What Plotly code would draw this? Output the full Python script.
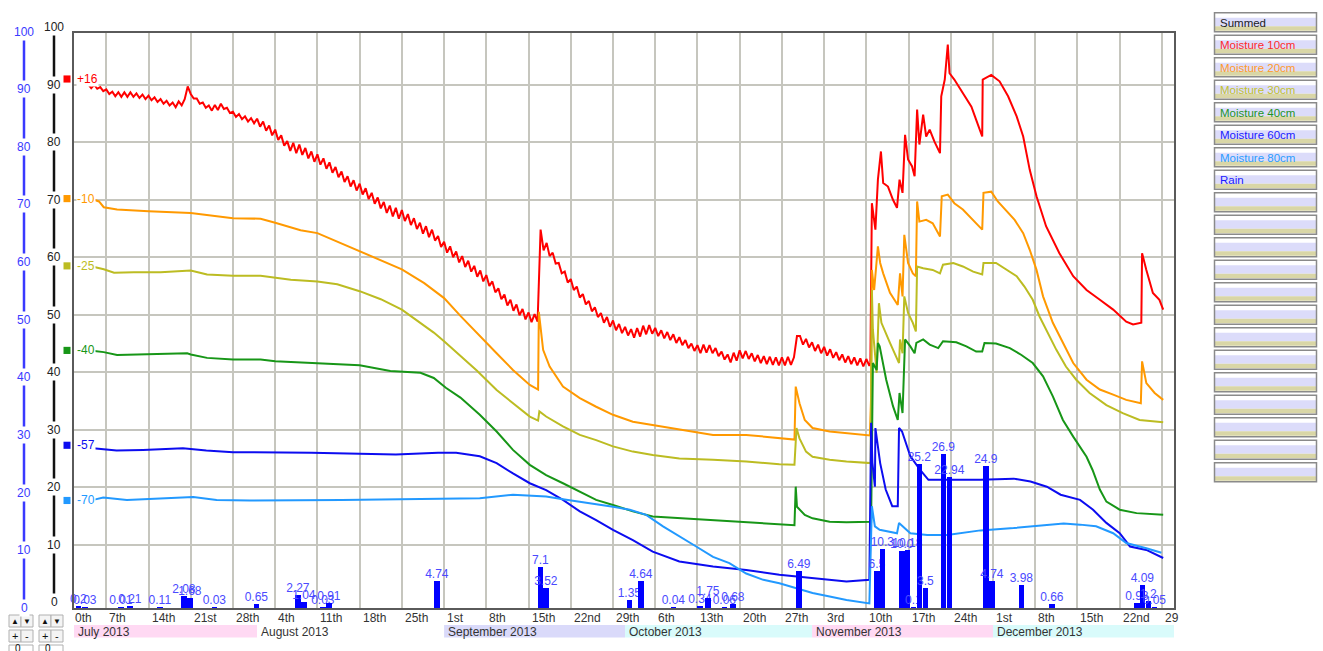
import plotly.graph_objects as go
import pandas as pd

# ---------------- data ----------------
# Moisture 10cm: half-daily readings from 4 Jul to 10 Nov (diurnal swing), then irregular readings
red_regular_start = "2013-07-04 00:00"
red_regular_y = [
    90.1, 89.4, 90.0, 89.3, 89.6, 88.9, 89.2, 88.4, 88.8, 88.0, 88.7, 87.9, 88.7, 87.9,            # Jul 4-10
    88.7, 87.9, 88.5, 87.7, 88.3, 87.5, 88.1, 87.3, 87.8, 87.0, 87.5, 86.7, 87.2, 86.4,            # Jul 11-17
    86.9, 86.1, 87.1, 86.4, 87.5, 89.7, 88.4, 87.6, 87.6, 86.7, 86.9, 86.0, 86.4, 85.5,            # Jul 18-24
    86.5, 85.6, 86.7, 85.8, 86.0, 85.1, 85.3, 84.4, 84.9, 84.0, 84.5, 83.6, 84.2, 83.3,            # Jul 25-31
    84.1, 82.7, 83.6, 82.0, 82.9, 81.2, 82.2, 80.4, 81.2, 79.4, 80.2, 78.5, 79.9, 78.1,            # Aug 1-7
    79.6, 77.8, 79.0, 77.2, 78.4, 76.6, 77.9, 76.1, 77.2, 75.4, 76.5, 74.7, 75.7, 73.9,            # Aug 8-14
    74.9, 73.1, 74.1, 72.3, 73.4, 71.6, 72.8, 70.9, 72.0, 70.1, 71.2, 69.3, 70.4, 68.5,            # Aug 15-21
    69.6, 67.7, 69.0, 67.1, 68.6, 66.7, 68.2, 66.3, 67.5, 65.6, 66.8, 64.9, 66.0, 64.1,            # Aug 22-28
    65.4, 63.5, 64.8, 62.9, 63.7, 61.8,                                                            # Aug 29-31
    62.7, 60.8, 61.9, 60.0, 61.0, 59.1, 60.2, 58.3, 59.4, 57.5, 58.5, 56.6, 57.7, 55.8,            # Sep 1-7
    56.9, 55.0, 55.8, 53.9, 54.6, 52.7, 53.5, 51.6, 52.6, 50.7, 51.8, 49.9, 51.0, 49.2,            # Sep 8-14
    50.4, 48.7, 50.1, 48.8, 64.8, 61.2, 62.5, 60.2, 60.8, 58.9, 59.0, 57.2, 57.5, 55.6,            # Sep 15-21
    56.2, 54.3, 54.9, 53.0, 53.6, 51.8, 52.4, 50.6, 51.3, 49.6, 50.3, 48.6, 49.6, 47.9,            # Sep 22-28
    49.0, 47.3, 48.4, 46.8,                                                                        # Sep 29-30
    47.9, 46.4, 47.5, 46.0, 47.7, 46.2, 48.1, 46.6, 48.2, 46.7, 47.7, 46.3, 47.3, 45.9,            # Oct 1-7
    47.0, 45.6, 46.6, 45.1, 46.1, 44.7, 45.6, 44.2, 45.0, 43.7, 44.7, 43.3, 44.8, 43.4,            # Oct 8-14
    44.7, 43.3, 44.2, 42.8, 43.6, 42.2, 43.1, 41.7, 43.4, 42.0, 43.8, 42.4, 43.7, 42.3,            # Oct 15-21
    43.3, 41.9, 43.0, 41.6, 42.8, 41.4, 42.7, 41.3, 42.6, 41.2, 42.6, 41.2, 42.7, 41.3,            # Oct 22-28
    42.6, 46.3, 46.3, 44.8, 45.8, 44.3,                                                            # Oct 29-31
    45.2, 43.7, 44.8, 43.3, 44.4, 42.9, 44.0, 42.5, 43.5, 42.1, 43.1, 41.7, 42.8, 41.4,            # Nov 1-7
    42.6, 41.2, 42.4, 41.0, 42.3, 41.1]                                                            # Nov 8-10
red_tail_x = ["2013-11-10 16:00","2013-11-10 22:00","2013-11-11 12:00",
         "2013-11-11 22:00","2013-11-12 10:00","2013-11-12 19:00","2013-11-13 14:00","2013-11-14 10:00","2013-11-15 02:00",
         "2013-11-15 12:00","2013-11-16 00:00","2013-11-16 10:00","2013-11-16 22:00","2013-11-17 14:00","2013-11-18 00:00",
         "2013-11-18 10:00","2013-11-18 19:00","2013-11-19 10:00","2013-11-19 22:00","2013-11-20 12:00","2013-11-21 07:00",
         "2013-11-22 05:00","2013-11-22 10:00","2013-11-23 00:00","2013-11-23 12:00","2013-11-23 19:00","2013-11-24 14:00",
         "2013-11-26 00:00","2013-11-27 10:00","2013-11-28 05:00","2013-11-29 05:00","2013-11-29 07:00","2013-11-30 17:00",
         "2013-12-02 02:00","2013-12-03 12:00","2013-12-04 22:00","2013-12-06 00:00","2013-12-07 02:00","2013-12-08 05:00",
         "2013-12-09 19:00","2013-12-12 00:00","2013-12-14 07:00","2013-12-16 12:00","2013-12-18 17:00","2013-12-20 22:00",
         "2013-12-23 02:00","2013-12-24 05:00","2013-12-25 14:00","2013-12-25 17:00","2013-12-26 10:00","2013-12-27 12:00",
         "2013-12-28 14:00","2013-12-29 05:00"]
red_tail_y = [41.6,69.4,64.8,
         73.5,78.4,72.9,72.3,70.0,68.6,73.5,71.2,81.3,77.0,75.8,74.1,85.7,79.6,84.8,81.0,82.2,80.1,78.1,88.0,90.9,97.0,
         92.0,90.9,88.6,86.2,83.9,81.0,90.9,91.7,90.6,88.0,84.5,81.0,75.2,70.6,65.4,60.7,56.7,54.3,52.6,50.9,48.8,48.3,
         48.6,60.7,57.8,53.8,52.6,50.9]

orange_x = ["2013-07-05 00:00","2013-07-05 19:00","2013-07-06 14:00","2013-07-08 19:00","2013-07-14 00:00","2013-07-21 00:00",
            "2013-07-28 00:00","2013-08-01 14:00","2013-08-04 00:00","2013-08-08 05:00","2013-08-11 00:00","2013-08-14 19:00",
            "2013-08-18 00:00","2013-08-22 00:00","2013-08-25 00:00","2013-08-28 17:00","2013-09-01 00:00","2013-09-03 17:00",
            "2013-09-06 10:00","2013-09-09 17:00","2013-09-12 10:00","2013-09-15 05:00","2013-09-16 14:00","2013-09-16 17:00",
            "2013-09-17 10:00","2013-09-18 12:00","2013-09-20 17:00","2013-09-23 12:00","2013-09-26 05:00","2013-09-29 00:00",
            "2013-10-02 07:00","2013-10-05 14:00","2013-10-10 00:00","2013-10-15 14:00","2013-10-21 02:00","2013-10-26 14:00",
            "2013-10-29 02:00","2013-10-29 07:00","2013-10-29 22:00","2013-10-30 19:00","2013-11-01 02:00","2013-11-03 22:00",
            "2013-11-06 17:00","2013-11-10 14:00","2013-11-10 19:00","2013-11-10 22:00","2013-11-11 07:00","2013-11-11 12:00",
            "2013-11-11 22:00","2013-11-12 07:00","2013-11-12 19:00","2013-11-13 22:00","2013-11-15 05:00","2013-11-15 14:00",
            "2013-11-16 00:00","2013-11-16 07:00","2013-11-16 22:00","2013-11-17 17:00","2013-11-18 05:00","2013-11-18 10:00",
            "2013-11-18 19:00","2013-11-19 22:00","2013-11-21 00:00","2013-11-22 05:00","2013-11-22 12:00","2013-11-23 12:00",
            "2013-11-24 14:00","2013-11-26 00:00","2013-11-27 17:00","2013-11-29 05:00","2013-11-29 10:00","2013-11-30 17:00",
            "2013-12-01 19:00","2013-12-03 05:00","2013-12-04 14:00","2013-12-06 00:00","2013-12-07 02:00","2013-12-08 05:00",
            "2013-12-09 07:00","2013-12-10 22:00","2013-12-12 14:00","2013-12-14 07:00","2013-12-16 12:00","2013-12-18 17:00",
            "2013-12-20 22:00","2013-12-23 02:00","2013-12-25 12:00","2013-12-25 17:00","2013-12-26 10:00","2013-12-27 19:00",
            "2013-12-29 05:00"]
orange_y = [70.0,69.7,68.7,68.3,68.0,67.7,66.8,66.7,66.0,64.7,64.2,62.5,61.0,59.3,57.9,55.5,52.9,49.8,46.8,43.3,40.4,
            37.8,37.0,50.5,43.9,41.0,37.5,35.5,34.0,32.6,31.4,30.8,30.0,29.1,29.1,28.5,28.3,37.5,34.6,31.7,30.3,29.7,
            29.4,29.0,35.8,57.8,54.3,56.7,61.9,59.0,57.2,53.8,51.7,57.2,53.2,63.9,59.0,57.2,56.7,69.7,66.2,66.5,65.9,
            63.6,70.6,70.9,69.4,68.3,66.5,64.8,71.2,71.4,69.7,68.0,66.5,64.2,61.3,57.8,53.2,48.6,45.1,41.6,38.7,37.0,
            36.1,35.2,34.6,41.9,38.1,36.4,35.2]

olive_x = ["2013-07-05 00:00","2013-07-06 14:00","2013-07-08 07:00","2013-07-11 14:00","2013-07-16 00:00","2013-07-21 00:00",
           "2013-07-23 17:00","2013-07-28 00:00","2013-08-01 14:00","2013-08-06 14:00","2013-08-11 00:00","2013-08-14 07:00",
           "2013-08-18 00:00","2013-08-21 12:00","2013-08-25 00:00","2013-08-28 02:00","2013-08-30 07:00","2013-09-01 00:00",
           "2013-09-03 17:00","2013-09-06 10:00","2013-09-09 17:00","2013-09-12 10:00","2013-09-15 05:00","2013-09-16 14:00",
           "2013-09-16 19:00","2013-09-17 22:00","2013-09-20 17:00","2013-09-23 12:00","2013-09-26 05:00","2013-09-29 00:00",
           "2013-10-02 07:00","2013-10-05 14:00","2013-10-10 00:00","2013-10-15 14:00","2013-10-21 02:00","2013-10-26 14:00",
           "2013-10-29 02:00","2013-10-29 10:00","2013-10-29 22:00","2013-10-31 00:00","2013-11-01 02:00","2013-11-03 22:00",
           "2013-11-06 17:00","2013-11-10 17:00","2013-11-10 22:00","2013-11-11 02:00","2013-11-11 17:00","2013-11-12 02:00",
           "2013-11-12 12:00","2013-11-13 22:00","2013-11-15 10:00","2013-11-15 14:00","2013-11-16 00:00","2013-11-16 07:00",
           "2013-11-16 22:00","2013-11-17 17:00","2013-11-18 05:00","2013-11-18 10:00","2013-11-19 10:00","2013-11-21 00:00",
           "2013-11-22 05:00","2013-11-22 17:00","2013-11-24 10:00","2013-11-26 00:00","2013-11-27 17:00","2013-11-29 05:00",
           "2013-11-29 10:00","2013-12-01 12:00","2013-12-03 05:00","2013-12-04 22:00","2013-12-06 05:00","2013-12-07 14:00",
           "2013-12-08 17:00","2013-12-09 19:00","2013-12-11 12:00","2013-12-13 02:00","2013-12-14 19:00","2013-12-17 00:00",
           "2013-12-19 19:00","2013-12-22 12:00","2013-12-25 07:00","2013-12-29 05:00"]
olive_y = [58.3,57.9,57.3,57.4,57.4,57.7,57.0,56.8,56.8,56.1,55.8,55.3,54.1,52.7,50.9,48.6,46.9,45.4,42.8,40.3,36.9,
           34.6,32.3,31.6,33.2,32.3,30.6,29.1,28.2,27.1,26.2,25.6,25.0,24.8,24.5,24.0,23.9,30.3,28.5,26.2,25.3,24.8,
           24.5,24.2,54.3,47.4,39.9,52.0,48.6,45.1,41.6,45.7,43.3,53.2,50.3,48.6,47.1,58.4,58.1,57.8,57.2,58.7,59.0,
           58.4,57.5,57.0,59.0,59.0,57.8,56.7,54.9,52.6,49.7,47.4,43.9,41.0,38.7,36.4,34.3,32.9,31.7,31.3]

green_x = ["2013-07-05 00:00","2013-07-06 14:00","2013-07-08 19:00","2013-07-14 00:00","2013-07-20 10:00","2013-07-21 00:00",
           "2013-07-23 17:00","2013-07-28 00:00","2013-08-01 14:00","2013-08-04 00:00","2013-08-11 00:00","2013-08-18 00:00",
           "2013-08-23 02:00","2013-08-28 02:00","2013-08-30 07:00","2013-09-01 07:00","2013-09-03 17:00","2013-09-06 22:00",
           "2013-09-09 17:00","2013-09-12 10:00","2013-09-15 05:00","2013-09-17 22:00","2013-09-20 17:00","2013-09-23 12:00",
           "2013-09-26 05:00","2013-09-29 00:00","2013-10-02 07:00","2013-10-05 14:00","2013-10-10 00:00","2013-10-15 14:00",
           "2013-10-21 02:00","2013-10-26 14:00","2013-10-29 02:00","2013-10-29 07:00","2013-10-29 12:00","2013-10-30 19:00",
           "2013-11-01 02:00","2013-11-03 22:00","2013-11-06 17:00","2013-11-10 19:00","2013-11-11 02:00","2013-11-11 17:00",
           "2013-11-11 22:00","2013-11-12 05:00","2013-11-13 07:00","2013-11-14 10:00","2013-11-15 05:00","2013-11-15 12:00",
           "2013-11-16 00:00","2013-11-16 10:00","2013-11-17 07:00","2013-11-18 00:00","2013-11-18 07:00","2013-11-19 10:00",
           "2013-11-20 12:00","2013-11-21 22:00","2013-11-22 17:00","2013-11-24 22:00","2013-11-26 14:00","2013-11-28 05:00",
           "2013-11-29 05:00","2013-11-29 14:00","2013-12-01 12:00","2013-12-03 19:00","2013-12-05 17:00","2013-12-07 14:00",
           "2013-12-09 07:00","2013-12-10 22:00","2013-12-12 14:00","2013-12-14 07:00","2013-12-15 10:00","2013-12-16 12:00",
           "2013-12-17 12:00","2013-12-18 17:00","2013-12-19 19:00","2013-12-22 00:00","2013-12-24 19:00","2013-12-29 05:00"]
green_y = [43.7,43.5,43.0,43.1,43.3,43.1,42.5,42.2,42.2,41.9,41.6,41.2,40.2,39.9,39.0,37.3,35.6,32.6,29.7,26.5,23.9,
           22.1,20.7,19.2,17.8,16.9,15.8,14.9,14.6,14.3,13.9,13.6,13.4,20.1,16.6,15.2,14.6,14.0,13.9,14.0,41.6,40.4,
           45.1,44.5,38.7,34.1,31.7,36.4,32.9,45.7,44.5,43.3,45.1,45.7,44.8,44.2,45.4,45.2,44.5,43.6,43.6,45.1,45.0,
           44.2,43.0,41.6,39.3,35.8,31.7,28.8,27.1,25.3,23.0,19.6,17.5,16.1,15.5,15.2]

blue_x = ["2013-07-04 20:00","2013-07-08 17:00","2013-07-13 02:00","2013-07-19 17:00","2013-07-23 14:00","2013-07-28 00:00",
          "2013-08-10 00:00","2013-08-24 00:00","2013-08-31 00:00","2013-09-03 00:00","2013-09-06 22:00","2013-09-09 17:00",
          "2013-09-12 10:00","2013-09-15 05:00","2013-09-17 22:00","2013-09-20 17:00","2013-09-23 12:00","2013-09-26 05:00",
          "2013-09-29 00:00","2013-10-02 07:00","2013-10-05 14:00","2013-10-10 00:00","2013-10-15 14:00","2013-10-21 02:00",
          "2013-10-26 14:00","2013-11-01 02:00","2013-11-06 17:00","2013-11-10 12:00","2013-11-10 19:00","2013-11-11 00:00",
          "2013-11-11 10:00","2013-11-11 12:00","2013-11-12 07:00","2013-11-13 05:00","2013-11-14 07:00","2013-11-15 05:00",
          "2013-11-15 10:00","2013-11-15 22:00","2013-11-17 07:00","2013-11-18 22:00","2013-11-20 07:00","2013-11-23 10:00",
          "2013-11-28 22:00","2013-12-04 10:00","2013-12-07 05:00","2013-12-09 22:00","2013-12-12 05:00","2013-12-15 10:00",
          "2013-12-17 14:00","2013-12-19 19:00","2013-12-22 00:00","2013-12-23 17:00","2013-12-26 10:00","2013-12-29 05:00"]
blue_y = [26.8,26.4,26.5,26.8,26.4,26.1,26.0,25.7,26.0,26.0,25.4,24.2,22.4,20.7,19.5,17.8,15.8,14.3,12.6,10.8,8.8,7.1,
          6.2,5.6,4.8,4.2,3.6,3.9,31.2,24.3,20.1,30.3,24.2,19.6,16.7,16.7,30.3,29.7,25.4,23.0,21.3,21.3,21.3,21.5,
          21.0,20.1,18.7,17.8,16.1,13.8,12.0,9.7,9.1,7.7]

lblue_x = ["2013-07-04 20:00","2013-07-06 12:00","2013-07-10 10:00","2013-07-17 00:00","2013-07-21 10:00","2013-07-25 07:00",
           "2013-07-30 19:00","2013-08-15 00:00","2013-08-28 00:00","2013-09-06 22:00","2013-09-12 10:00","2013-09-17 22:00",
           "2013-09-20 17:00","2013-09-23 12:00","2013-09-26 05:00","2013-09-29 00:00","2013-10-01 19:00","2013-10-04 12:00",
           "2013-10-07 07:00","2013-10-10 00:00","2013-10-12 19:00","2013-10-15 14:00","2013-10-18 07:00","2013-10-21 02:00",
           "2013-10-23 22:00","2013-10-26 14:00","2013-10-29 10:00","2013-11-01 02:00","2013-11-03 22:00","2013-11-06 17:00",
           "2013-11-10 12:00","2013-11-10 22:00","2013-11-11 10:00","2013-11-12 05:00","2013-11-15 02:00","2013-11-15 10:00",
           "2013-11-17 07:00","2013-11-20 02:00","2013-11-23 10:00","2013-11-28 22:00","2013-12-04 10:00","2013-12-09 22:00",
           "2013-12-12 17:00","2013-12-15 10:00","2013-12-18 02:00","2013-12-20 22:00","2013-12-23 02:00","2013-12-26 10:00",
           "2013-12-28 22:00"]
lblue_y = [17.8,18.2,17.8,18.1,18.3,17.8,17.7,17.8,17.9,18.1,18.7,18.4,17.9,17.5,17.1,16.6,16.1,15.2,13.2,11.4,9.7,7.9,
           6.8,5.0,3.9,3.3,2.4,1.6,1.0,0.4,-0.2,16.7,13.2,12.6,12.0,13.8,12.0,11.7,11.7,12.5,12.9,13.4,13.7,13.5,13.2,
           12.0,10.3,9.4,8.6]

rain_x = ["2013-07-02 10:00","2013-07-03 12:00","2013-07-09 10:00","2013-07-10 22:00","2013-07-15 22:00","2013-07-19 22:00",
          "2013-07-20 22:00","2013-07-24 22:00","2013-07-31 22:00","2013-08-07 19:00","2013-08-08 19:00","2013-08-11 22:00",
          "2013-08-12 22:00","2013-08-30 20:00","2013-09-16 23:00","2013-09-17 22:00","2013-10-01 17:00","2013-10-03 15:00",
          "2013-10-09 00:00","2013-10-13 10:00","2013-10-14 19:00","2013-10-17 12:00","2013-10-18 22:00","2013-10-29 19:00",
          "2013-11-11 19:00","2013-11-12 17:00","2013-11-15 22:00","2013-11-16 19:00","2013-11-17 19:00","2013-11-18 19:00",
          "2013-11-19 19:00","2013-11-22 19:00","2013-11-23 19:00","2013-11-29 19:00","2013-11-30 19:00","2013-12-05 17:00",
          "2013-12-10 19:00","2013-12-24 20:00","2013-12-25 19:00","2013-12-26 18:00","2013-12-27 19:00"]
rain_mm = [0.2,0.03,0.01,0.21,0.11,2.08,1.68,0.03,0.65,2.27,1.04,0.03,0.91,4.74,7.1,3.52,1.35,4.64,0.04,0.34,1.75,0.06,
           0.68,6.49,6.5,10.3,10.0,10.18,0.1,25.2,3.5,26.9,22.94,24.9,4.74,3.98,0.66,0.93,4.09,1.2,0.05]

week_dates = ["2013-07-07","2013-07-14","2013-07-21","2013-07-28","2013-08-04","2013-08-11","2013-08-18","2013-08-25",
              "2013-09-01","2013-09-08","2013-09-15","2013-09-22","2013-09-29","2013-10-06","2013-10-13","2013-10-20",
              "2013-10-27","2013-11-03","2013-11-10","2013-11-17","2013-11-24","2013-12-01","2013-12-08","2013-12-15",
              "2013-12-22","2013-12-29"]
week_labels = ["7th","14th","21st","28th","4th","11th","18th","25th","1st","8th","15th","22nd","29th","6th","13th",
               "20th","27th","3rd","10th","17th","24th","1st","8th","15th","22nd","29"]

month_names = ["July 2013","August 2013","September 2013","October 2013","November 2013","December 2013"]
month_start = ["2013-07-01 15:36","2013-08-01","2013-09-01","2013-10-01","2013-11-01","2013-12-01"]
month_end = ["2013-08-01","2013-09-01","2013-10-01","2013-11-01","2013-12-01","2013-12-31"]
month_fill = ["#ffd9f3","#ffffff","#dadafa","#d9fbfb","#ffd9f3","#d9fbfb"]

axis_ticks = [0,10,20,30,40,50,60,70,80,90,100]

depth_labels = ["+16","-10","-25","-40","-57","-70"]
depth_marks = [91.0,70.2,58.5,43.8,27.3,17.7]

legend_names = ["Summed","Moisture 10cm","Moisture 20cm","Moisture 30cm","Moisture 40cm","Moisture 60cm",
                "Moisture 80cm","Rain"]
legend_blank_count = 13

# ---------------- build ----------------
red_x = list(pd.date_range(red_regular_start, periods=len(red_regular_y), freq="12h")) + \
        list(pd.to_datetime(red_tail_x))
red_y = red_regular_y + red_tail_y

C_RED, C_ORANGE, C_OLIVE, C_GREEN, C_BLUE, C_LBLUE = "#ff0000","#ff9900","#bcbc22","#179617","#0c0cf0","#2299ff"
series = [(red_x, red_y, C_RED), (orange_x, orange_y, C_ORANGE), (olive_x, olive_y, C_OLIVE),
          (green_x, green_y, C_GREEN), (blue_x, blue_y, C_BLUE), (lblue_x, lblue_y, C_LBLUE)]
legend_colors = ["#222222","#ff2a2a","#ff9a2a","#c2c22e","#1f951f","#1a1aff","#2a9cff","#1a1aff"]
FONT = "Liberation Sans, Arial, sans-serif"

W, H = 1323, 651
L, R, T, B = 74, 149, 33, 43
PW, PH = W - L - R, H - T - B


def px(x):
    return (x - L) / PW


def py(y):
    return (T + PH - y) / PH


fig = go.Figure()
for xs, ys, col in series:
    fig.add_trace(go.Scatter(x=xs, y=ys, mode="lines", line=dict(color=col, width=2), yaxis="y",
                             showlegend=False, hoverinfo="skip"))

fig.add_trace(go.Bar(x=rain_x, y=rain_mm, yaxis="y2", marker=dict(color="#0000ff", line=dict(width=0)),
                     width=0.93 * 86400000, text=[str(v) for v in rain_mm], textposition="outside",
                     constraintext="none", cliponaxis=False,
                     outsidetextfont=dict(color="#4a4aff", size=12, family=FONT), showlegend=False))

shapes = []
ann = []

for nm, s, e, f in zip(month_names, month_start, month_end, month_fill):
    shapes.append(dict(type="rect", xref="x", yref="paper", x0=s, x1=e, y0=py(637.5), y1=py(625),
                       fillcolor=f, line=dict(width=0), layer="below"))
    ann.append(dict(text=nm, xref="x", yref="paper", x=s, y=py(631.5), xanchor="left", yanchor="middle",
                    xshift=2, showarrow=False, font=dict(size=12, color="#333333", family=FONT)))

for d, lab in zip(week_dates, week_labels):
    ann.append(dict(text=lab, xref="x", yref="paper", x=d, y=py(618), xanchor="left", yanchor="middle",
                    xshift=1, showarrow=False, font=dict(size=12, color="#333333", family=FONT)))
ann.append(dict(text="0th", xref="paper", yref="paper", x=px(72.5), y=py(618), xanchor="left", yanchor="middle",
                showarrow=False, font=dict(size=12, color="#333333", family=FONT)))

shapes.append(dict(type="line", xref="paper", yref="paper", x0=px(24), x1=px(24), y0=py(33), y1=py(606),
                   line=dict(color="#3a3aff", width=2.5)))
shapes.append(dict(type="line", xref="paper", yref="paper", x0=px(54), x1=px(54), y0=py(27), y1=py(605),
                   line=dict(color="#111111", width=2.5)))
for v in axis_ticks:
    ann.append(dict(text=str(v), xref="paper", yref="paper", x=px(24), y=py(608 - v * 5.765),
                    xanchor="center", yanchor="middle", showarrow=False, bgcolor="white", borderpad=1,
                    font=dict(size=12, color="#3a3aff", family=FONT)))
    ann.append(dict(text=str(v), xref="paper", yref="paper", x=px(54), y=py(602.25 - v * 5.75),
                    xanchor="center", yanchor="middle", showarrow=False, bgcolor="white", borderpad=1,
                    font=dict(size=12, color="#222222", family=FONT)))

for lab, v, (_, _, col) in zip(depth_labels, depth_marks, series):
    shapes.append(dict(type="rect", xref="paper", yref="y", x0=px(63.5), x1=px(70.5), y0=v - 0.62, y1=v + 0.62,
                       fillcolor=col, line=dict(width=0)))
    ann.append(dict(text=lab, xref="paper", yref="y", x=px(76), y=v, xanchor="left", yanchor="middle",
                    showarrow=False, bgcolor="white", borderpad=0, font=dict(size=12, color=col, family=FONT)))

bx0, bx1 = 1214.5, 1316.5
names_all = legend_names + [""] * legend_blank_count
cols_all = legend_colors + ["#222222"] * legend_blank_count
for i, (nm, col) in enumerate(zip(names_all, cols_all)):
    top = 12.7 + i * 22.5
    bot = top + 19
    shapes.append(dict(type="rect", xref="paper", yref="paper", x0=px(bx0), x1=px(bx1), y0=py(bot), y1=py(top),
                       fillcolor="#ffffff", line=dict(width=0)))
    shapes.append(dict(type="rect", xref="paper", yref="paper", x0=px(bx0), x1=px(bx1), y0=py(top + 13.5),
                       y1=py(top + 5), fillcolor="#dcdcfa", line=dict(width=0)))
    shapes.append(dict(type="rect", xref="paper", yref="paper", x0=px(bx0), x1=px(bx1), y0=py(bot - 1),
                       y1=py(top + 13.5), fillcolor="#d9d6a6", line=dict(width=0)))
    shapes.append(dict(type="rect", xref="paper", yref="paper", x0=px(bx0), x1=px(bx1), y0=py(bot), y1=py(top),
                       fillcolor="rgba(0,0,0,0)", line=dict(color="#8a8a8a", width=1.5)))
    if nm:
        ann.append(dict(text=nm, xref="paper", yref="paper", x=px(1218), y=py(top + 10), xanchor="left",
                        yanchor="middle", showarrow=False, font=dict(size=11.5, color=col, family=FONT)))

for gx in (9, 39):
    for (ya, yb, t1, t2) in ((615, 627, "\u25b2", "\u25bc"), (630, 642, "+", "-")):
        for k, t in enumerate((t1, t2)):
            xa = gx + k * 12
            shapes.append(dict(type="rect", xref="paper", yref="paper", x0=px(xa), x1=px(xa + 12), y0=py(yb),
                               y1=py(ya), fillcolor="#f4f4f4", line=dict(color="#b0b0b0", width=1)))
            ann.append(dict(text=t, xref="paper", yref="paper", x=px(xa + 6), y=py((ya + yb) / 2),
                            xanchor="center", yanchor="middle", showarrow=False,
                            font=dict(size=8 if t in ("\u25b2", "\u25bc") else 11, color="#111111", family=FONT)))
    shapes.append(dict(type="rect", xref="paper", yref="paper", x0=px(gx), x1=px(gx + 24), y0=py(655),
                       y1=py(645), fillcolor="#ffffff", line=dict(color="#b0b0b0", width=1)))
    ann.append(dict(text="0", xref="paper", yref="paper", x=px(gx + 4), y=py(649), xanchor="left",
                    yanchor="middle", showarrow=False, font=dict(size=10, color="#111111", family=FONT)))

fig.update_layout(
    width=W, height=H, margin=dict(l=L, r=R, t=T, b=B, pad=0),
    paper_bgcolor="white", plot_bgcolor="white", showlegend=False,
    font=dict(family=FONT, size=12, color="#333333"),
    bargap=0, barmode="overlay",
    xaxis=dict(type="date", range=["2013-07-01 15:36", "2013-12-31 00:00"], tickmode="array",
               tickvals=week_dates, showticklabels=False, ticks="", showgrid=True, gridcolor="#c6c6be",
               gridwidth=1.5, showline=True, mirror=True, linecolor="#5a5a5a", linewidth=1.5, zeroline=False,
               fixedrange=True),
    yaxis=dict(range=[-1.0, 99.0], tickmode="array", tickvals=[10, 20, 30, 40, 50, 60, 70, 80, 90],
               showticklabels=False, ticks="", showgrid=True, gridcolor="#c6c6be", gridwidth=1.5,
               showline=True, mirror=True, linecolor="#5a5a5a", linewidth=1.5, zeroline=False),
    yaxis2=dict(range=[0, 100.5], overlaying="y", showgrid=False, showticklabels=False, ticks="",
                zeroline=False, showline=False),
    shapes=shapes, annotations=ann,
)

fig.write_html("out.html", config={"displayModeBar": False},
               post_script="document.body.style.margin='0px';document.body.style.overflow='hidden';")
